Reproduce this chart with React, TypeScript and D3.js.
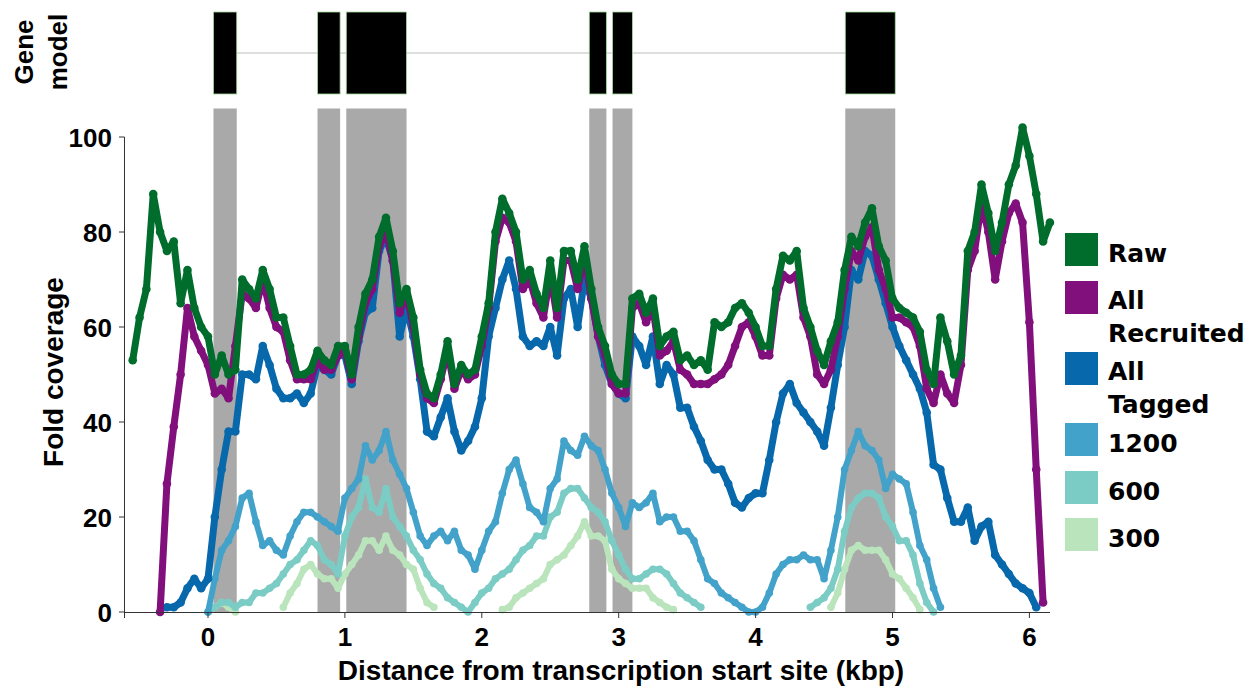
import React from 'react';
import * as d3 from 'd3';

// ---------- data (fold coverage, sampled every STEP kbp from each series' start) ----------
const STEP = 0.05;

const RAW_START = -0.55;
const raw = [
  53, 62, 68, 88, 80, 76, 78, 65, 72, 64, 60,
  58, 50, 54, 50, 51, 70, 68, 66, 72, 68, 62, 62, 56, 50, 50, 51, 55, 53, 52, 56,
  56, 50, 60, 67, 70, 79, 83, 76, 65, 68, 62, 51, 46, 45, 50, 57, 48, 52, 50, 51,
  58, 65, 80, 87, 84, 80, 70, 72, 67, 64, 74, 64, 76, 76, 70, 77, 68, 60, 56, 50,
  48, 48, 66, 67, 63, 66, 56, 58, 59, 53, 54, 52, 53, 51, 61, 60, 61, 64, 65, 63,
  60, 56, 56, 68, 75, 74, 76, 64, 60, 55, 52, 57, 61, 72, 79, 77, 82, 85, 77, 74,
  66, 64, 63, 62, 59, 51, 48, 62, 57, 50, 54, 76, 80, 90, 84, 76, 82, 90, 94, 102,
  96, 88, 78, 82,
];

const RECRUITED_START = -0.35;
const recruited = [
  0, 27, 39, 50, 64, 58, 55,
  52, 46, 47, 45, 56, 67, 66, 64, 70, 64, 60, 59, 53, 49, 49, 49, 53, 51, 51, 54,
  55, 49, 58, 65, 68, 77, 80, 74, 63, 67, 60, 50, 45, 44, 49, 55, 47, 51, 49, 50,
  56, 64, 78, 83, 82, 78, 68, 70, 65, 62, 71, 62, 74, 74, 68, 75, 66, 58, 54, 48,
  46, 46, 64, 65, 61, 64, 54, 55, 57, 51, 50, 48, 48, 48, 49, 50, 52, 56, 60, 61,
  58, 54, 54, 66, 71, 70, 71, 62, 58, 50, 48, 51, 58, 68, 76, 74, 79, 81, 72, 68,
  62, 62, 61, 60, 56, 47, 44, 50, 46, 44, 52, 72, 76, 86, 80, 70, 78, 84, 86, 82,
  61, 30, 2,
];

const TAGGED_START = -0.3;
const tagged = [
  1, 1, 2, 5, 7, 5,
  7, 20, 30, 38, 38, 50, 50, 49, 56, 52, 47, 45, 45, 46, 44, 46, 52, 51, 50, 54,
  54, 48, 57, 63, 64, 76, 79, 74, 58, 64, 58, 49, 38, 37, 41, 45, 38, 34, 36, 39,
  45, 58, 64, 70, 74, 68, 58, 56, 57, 56, 60, 54, 66, 68, 60, 70, 66, 58, 52, 48,
  46, 45, 58, 56, 52, 58, 48, 52, 50, 43, 43, 39, 36, 32, 30, 30, 27, 23, 22, 24,
  25, 25, 32, 40, 46, 48, 44, 42, 40, 38, 35, 43, 52, 60, 72, 70, 76, 75, 70, 65,
  60, 56, 53, 50, 47, 42, 31, 30, 24, 19, 19, 22, 15, 18, 19, 12, 10, 8, 6, 5,
  4, 1,
];

const S1200_START = 0;
const s1200 = [
  0, 7, 13, 15, 18, 24, 25, 19, 14, 15, 13, 12, 16, 19, 21, 21, 20, 19, 18, 17,
  24, 26, 28, 35, 32, 34, 38, 32, 29, 26, 21, 16, 14, 16, 17, 15, 17, 13, 12, 9,
  13, 17, 19, 25, 30, 32, 27, 22, 21, 19, 26, 28, 36, 34, 33, 37, 35, 34, 30, 25,
  22, 18, 23, 22, 23, 25, 19, 20, 20, 17, 17, 15, 11, 7, 6, 4, 3, 2, 1, 0,
  0, 1, 4, 8, 10, 11, 11, 12, 11, 11, 7, 13, 20, 30, 34, 38, 35, 34, 32, 26,
  29, 28, 27, 21, 14, 11, 5, 1,
];

const S600_START = 0;
const s600: (number | null)[] = [
  0, 1, 2, 2, 1, 2, 2, 4, 4, 5, 6, 8, 10, 11, 13, 15, 14, 11, 10, 8,
  16, 20, 22, 28, 22, 21, 26, 20, 18, 16, 13, 11, 8, 6, 5, 3, 2, 1, 0, 2,
  4, 5, 7, 8, 9, 11, 13, 14, 16, 16, 20, 21, 25, 26, 26, 24, 22, 21, 19, 15,
  12, 9, 7, 7, 8, 9, 9, 8, 6, 4, 3, 2, 1,
  null, null, null, null, null, null, null, null, null, null, null, null, null, null, null,
  1, 2, 3, 5, 9, 17, 22, 24, 25, 25, 24, 20, 18, 15, 15, 12, 6, 2, 0,
];

const S300_START = 0;
const s300: (number | null)[] = [
  0, 1, 2, 1, 0, null, null, null, null, null, null, 1, 4, 6, 9, 10, 8, 7, 7, 5,
  8, 10, 12, 15, 15, 13, 16, 13, 12, 10, 9, 5, 2, 1,
  null, null, null, null, null, null, null, null, null,
  0.5, 1, 3, 4, 5, 6, 7, 10, 11, 12, 14, 16, 19, 16, 16, 15,
  9, 7, 6, 5, 5, 5, 3, 2, 1, 0.5,
  null, null, null, null, null, null, null, null, null, null, null,
  null, null, null, null, null, null, null, null, null, null, null,
  1, 4, 9, 13, 14, 13, 13, 13, 11, 8, 7, 5, 3, 0.5,
];

// exons of the gene model (kbp)
const EXON_STARTS = [0.04, 0.8, 1.01, 2.785, 2.955, 4.655];
const EXON_ENDS = [0.21, 0.965, 1.45, 2.91, 3.1, 5.02];

const X_TICKS = [0, 1, 2, 3, 4, 5, 6];
const Y_TICKS = [0, 20, 40, 60, 80, 100];

const LEGEND_NAMES = ['Raw', 'All Recruited', 'All Tagged', '1200', '600', '300'];
const LEGEND_COLORS = ['#006d2c', '#810f7c', '#0868ac', '#43a2ca', '#7bccc4', '#bae4bc'];

// drawing order: lightest first, raw on top
const SERIES = [
  { key: '300', color: '#bae4bc', start: S300_START, values: s300 },
  { key: '600', color: '#7bccc4', start: S600_START, values: s600 },
  { key: '1200', color: '#43a2ca', start: S1200_START, values: s1200 },
  { key: 'tagged', color: '#0868ac', start: TAGGED_START, values: tagged },
  { key: 'recruited', color: '#810f7c', start: RECRUITED_START, values: recruited },
  { key: 'raw', color: '#006d2c', start: RAW_START, values: raw },
];

const W = 1249;
const H = 687;

export default function App() {
  const x = d3.scaleLinear().domain([0, 6]).range([208, 1029.4]);
  const y = d3.scaleLinear().domain([0, 100]).range([612, 137]);
  const bandTop = y(106);

  type P = { x: number; v: number | null };
  const line = d3
    .line<P>()
    .defined((d) => d.v !== null)
    .x((d) => x(d.x))
    .y((d) => y(d.v as number));

  const fontAxis = "'Liberation Sans', Arial, sans-serif";
  const fontLegend = "'DejaVu Sans', sans-serif";

  const geneStart = d3.min(EXON_STARTS) as number;
  const geneEnd = d3.max(EXON_ENDS) as number;

  return (
    <svg
      width={W}
      height={H}
      style={{ position: 'absolute', left: 0, top: 0, background: '#fff' }}
    >
      {/* gene model */}
      <line x1={x(geneStart)} x2={x(geneEnd)} y1={53} y2={53} stroke="#d3d3d3" strokeWidth={1.5} />
      {EXON_STARTS.map((s, i) => (
        <rect
          key={'ex' + i}
          x={x(s)}
          y={12}
          width={x(EXON_ENDS[i]) - x(s)}
          height={82}
          fill="#000"
          stroke="#a1d99b"
          strokeWidth={0.8}
        />
      ))}
      <text
        transform="translate(33,52) rotate(-90)"
        textAnchor="middle"
        fontFamily={fontAxis}
        fontWeight="bold"
        fontSize={26}
      >
        Gene
      </text>
      <text
        transform="translate(67,52) rotate(-90)"
        textAnchor="middle"
        fontFamily={fontAxis}
        fontWeight="bold"
        fontSize={26}
      >
        model
      </text>

      {/* exon shading */}
      {EXON_STARTS.map((s, i) => (
        <rect
          key={'band' + i}
          x={x(s)}
          y={bandTop}
          width={x(EXON_ENDS[i]) - x(s)}
          height={y(0) - bandTop}
          fill="#a9a9a9"
        />
      ))}

      {/* series */}
      {SERIES.map((s, si) => {
        const pts: P[] = s.values.map((v, i) => ({ x: s.start + i * STEP, v }));
        const sw = si >= 3 ? 7 : 6;
        return (
          <g key={s.key}>
            <path
              d={line(pts) || ''}
              fill="none"
              stroke={s.color}
              strokeWidth={sw}
              strokeLinejoin="round"
              strokeLinecap="round"
            />
            {pts
              .filter((p) => p.v !== null)
              .map((p, i) => (
                <circle key={i} cx={x(p.x)} cy={y(p.v as number)} r={sw / 2 + 0.8} fill={s.color} />
              ))}
          </g>
        );
      })}

      {/* axes */}
      <line x1={124.5} x2={1050} y1={612.5} y2={612.5} stroke="#333" strokeWidth={1} />
      <line x1={124.5} x2={124.5} y1={y(100)} y2={618} stroke="#333" strokeWidth={1} />
      {X_TICKS.map((t) => (
        <g key={'xt' + t}>
          <line x1={x(t)} x2={x(t)} y1={612.5} y2={618} stroke="#333" />
          <text
            x={x(t)}
            y={646}
            textAnchor="middle"
            fontFamily={fontAxis}
            fontWeight="bold"
            fontSize={26}
          >
            {t}
          </text>
        </g>
      ))}
      {Y_TICKS.map((t) => (
        <g key={'yt' + t}>
          <line x1={119} x2={124.5} y1={y(t)} y2={y(t)} stroke="#333" />
          <text
            x={112}
            y={y(t) + 9.5}
            textAnchor="end"
            fontFamily={fontAxis}
            fontWeight="bold"
            fontSize={26}
          >
            {t}
          </text>
        </g>
      ))}
      <text
        x={621}
        y={680}
        textAnchor="middle"
        fontFamily={fontAxis}
        fontWeight="bold"
        fontSize={28}
      >
        Distance from transcription start site (kbp)
      </text>
      <text
        transform="translate(63,372) rotate(-90)"
        textAnchor="middle"
        fontFamily={fontAxis}
        fontWeight="bold"
        fontSize={28}
      >
        Fold coverage
      </text>

      {/* legend */}
      {LEGEND_NAMES.map((name, i) => {
        const tops = [233, 281, 352, 423, 471, 518];
        const lines = name.split(' ');
        const baseY = tops[i] + 29;
        const twoLine = lines.length > 1 && name.startsWith('All');
        return (
          <g key={'lg' + i}>
            <rect x={1065} y={tops[i]} width={33} height={33} fill={LEGEND_COLORS[i]} />
            {twoLine ? (
              <text fontFamily={fontLegend} fontWeight="bold" fontSize={25}>
                <tspan x={1108} y={tops[i] + 28}>{lines[0]}</tspan>
                <tspan x={1108} y={tops[i] + 61}>{lines[1]}</tspan>
              </text>
            ) : (
              <text x={1108} y={baseY} fontFamily={fontLegend} fontWeight="bold" fontSize={25}>
                {name}
              </text>
            )}
          </g>
        );
      })}
    </svg>
  );
}
